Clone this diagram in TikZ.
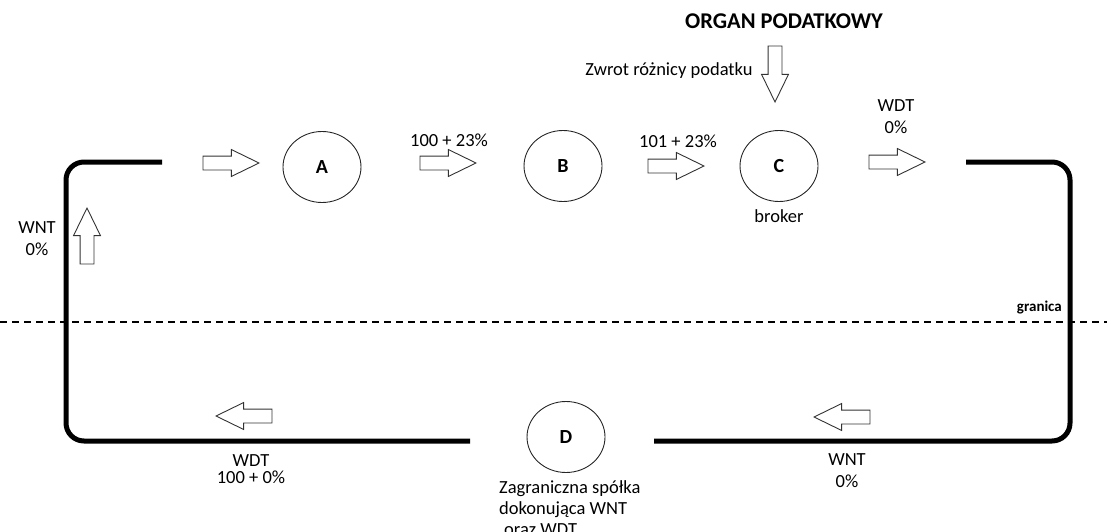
\documentclass[tikz,border=0pt]{standalone}
\usepackage{fontspec}
\setmainfont{Carlito}
\usetikzlibrary{positioning,shapes.geometric,shapes.arrows}
\tikzset{
  party/.style={ellipse, draw=black!85, line width=0.9, minimum width=78, minimum height=71,
    inner sep=0pt, font=\fontsize{20}{23}\selectfont\bfseries},
  flow/.style={single arrow, draw=black!80, fill=white, line width=0.9, inner xsep=0pt,
    inner ysep=6.5, minimum height=56, single arrow head extend=6.5,
    single arrow tip angle=52, anchor=tip},
  border/.style={line width=5, line cap=butt, rounded corners=18},
  txt/.style={inner sep=0pt, font=\fontsize{18.5}{22}\selectfont, align=center},
  % plain labels are placed by their baseline
  lbl/.style={txt, anchor=base}
}

\begin{document}
\begin{tikzpicture}[x=1pt, y=-1pt, node distance=7.5pt]
    \useasboundingbox (0,0) rectangle (1107,532);

    % the four parties
    \node[party] (A) at (322,167) {A};
    \node[party] (B) at (563,166) {B};
    \node[party] (C) at (779,166) {C};
    \node[party] (D) at (566,437) {D};

    \node[lbl, font=\fontsize{22.5}{26}\selectfont\bfseries] (organ) at (784,29) {ORGAN PODATKOWY};
    \node[lbl] (zwrot) at (669,76) {Zwrot różnicy podatku};
    \node[lbl] (AB)    at (449,146) {100 + 23\%};
    \node[lbl] (BC)    at (678,147) {101 + 23\%};
    \node[txt, below=of C] (broker) {broker};
    \node[txt] (wdtC)  at (896,116.5) {WDT\\0\%};
    \node[txt] (wntA)  at (37,238.5) {WNT\\0\%};
    \node[txt] (wntD)  at (847,470.5) {WNT\\0\%};
    \node[txt, font=\fontsize{18.5}{17}\selectfont] (wdtD) at (251,469) {WDT\\100 + 0\%};
    \node[txt, align=left, anchor=north west, font=\fontsize{18.5}{21}\selectfont] (spolka) at (499,480)
      {Zagraniczna spółka\\dokonująca WNT\\\hspace*{5pt}oraz WDT};

    % flow arrows
    \node[flow]              (f1) at (260,163) {};
    \node[flow]              (f2) at (477,163) {};
    \node[flow]              (f3) at (705,166) {};
    \node[flow]              (f4) at (926,162) {};
    \node[flow, rotate=-90]  (zw) at (775,103) {};
    \node[flow, rotate=90]   (fu) at (87,207)  {};
    \node[flow, rotate=180]  (fl) at (215,416) {};
    \node[flow, rotate=180]  (fr) at (813,417) {};

    % border between the country and abroad
    \coordinate (g0) at (0,322);
    \coordinate (g1) at (1107,322);
    \draw[line width=1.8, dash pattern=on 7pt off 5pt] (g0) -- (g1);
    \node[inner sep=0pt, anchor=east, font=\fontsize{15}{18}\selectfont\bfseries] (granica) at (1062,308) {granica};

    % the goods loop
    \coordinate (l0) at (162,162);
    \coordinate (l1) at (66,162);
    \coordinate (l2) at (66,441);
    \coordinate (l3) at (470,441);
    \coordinate (r0) at (654,441);
    \coordinate (r1) at (1070,441);
    \coordinate (r2) at (1070,162);
    \coordinate (r3) at (966,162);
    \draw[border] (l0) -- (l1) -- (l2) -- (l3);
    \draw[border] (r0) -- (r1) -- (r2) -- (r3);
\end{tikzpicture}
\end{document}
